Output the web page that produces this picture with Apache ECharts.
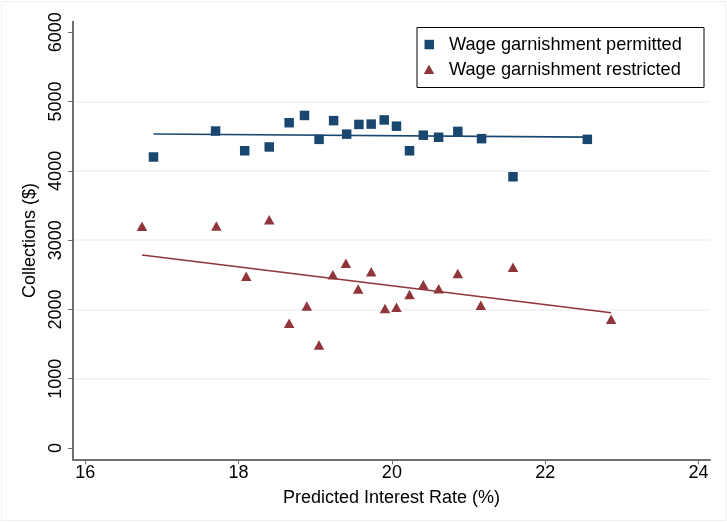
<!DOCTYPE html>
<html>
<head>
<meta charset="utf-8">
<script src="https://cdn.jsdelivr.net/npm/echarts@6/dist/echarts.min.js"></script>
<style>html,body{margin:0;padding:0;background:#fff}#c{width:727px;height:522px}</style>
</head>
<body>
<div id="c"></div>
<script>
var permittedX = [16.89, 17.70, 18.08, 18.40, 18.66, 18.86, 19.05, 19.24, 19.41, 19.57, 19.73, 19.90, 20.06, 20.23, 20.41, 20.61, 20.86, 21.17, 21.58, 22.55];
var permittedY = [4200, 4575, 4290, 4345, 4695, 4800, 4455, 4725, 4530, 4670, 4675, 4735, 4645, 4290, 4515, 4485, 4570, 4465, 3915, 4455];
var restrictedX = [16.74, 17.71, 18.10, 18.40, 18.66, 18.89, 19.05, 19.23, 19.40, 19.56, 19.73, 19.91, 20.06, 20.23, 20.41, 20.61, 20.86, 21.16, 21.58, 22.86];
var restrictedY = [3200, 3205, 2480, 3295, 1800, 2050, 1485, 2500, 2665, 2295, 2545, 2015, 2030, 2215, 2355, 2300, 2520, 2060, 2610, 1860];
var permittedFitX = [16.89, 22.55];
var permittedFitY = [4532, 4487];
var restrictedFitX = [16.74, 22.86];
var restrictedFitY = [2786, 1953];
var xTicks = [16, 18, 20, 22, 24];
var yTicks = [0, 1000, 2000, 3000, 4000, 5000, 6000];
var gridValues = [1000, 2000, 3000, 4000, 5000];
var legendLabels = ['Wage garnishment permitted', 'Wage garnishment restricted'];

var BLUE = '#1a476f', RED = '#90353b';
function zip(a, b) { return a.map(function (v, i) { return [v, b[i]]; }); }

var chart = echarts.init(document.getElementById('c'), null, {renderer: 'canvas'});
chart.setOption({
  animation: false,
  backgroundColor: '#fff',
  textStyle: {fontFamily: 'Liberation Sans, Arial, sans-serif'},
  grid: {left: 73, right: 17, top: 21.7, bottom: 62.7, containLabel: false},
  xAxis: {
    type: 'value', min: 15.84, max: 24.15,
    name: 'Predicted Interest Rate (%)', nameLocation: 'middle', nameGap: 30,
    nameTextStyle: {fontSize: 18, color: '#000', fontFamily: 'Liberation Sans'},
    axisLine: {onZero: false, lineStyle: {color: '#6e6e6e', width: 2}},
    axisTick: {show: true, length: 5, lineStyle: {color: '#6e6e6e', width: 1}, customValues: xTicks},
    axisLabel: {fontSize: 18, color: '#000', margin: 5, customValues: xTicks, formatter: function (v) { return String(v); }, fontFamily: 'Liberation Sans'},
    splitLine: {show: false}
  },
  yAxis: {
    type: 'value', min: -163, max: 6153,
    name: 'Collections ($)', nameLocation: 'middle', nameGap: 34,
    nameTextStyle: {fontSize: 18, color: '#000', fontFamily: 'Liberation Sans'},
    axisLine: {onZero: false, lineStyle: {color: '#6e6e6e', width: 2}},
    axisTick: {show: true, length: 5, lineStyle: {color: '#6e6e6e', width: 1}, customValues: yTicks},
    axisLabel: {fontSize: 18, color: '#000', margin: 8, rotate: 90, customValues: yTicks, formatter: function (v) { return String(v); }, fontFamily: 'Liberation Sans'},
    splitLine: {show: false}
  },
  legend: {show: false},
  graphic: [
    {type: 'rect', shape: {x: 1.5, y: 1.5, width: 724, height: 519}, style: {fill: 'none', stroke: '#eaf2f3', lineWidth: 1}, silent: true, z: -1},
    {type: 'rect', shape: {x: 417, y: 27.5, width: 287, height: 60}, style: {fill: '#fff', stroke: '#000', lineWidth: 1}, z: 100},
    {type: 'rect', shape: {x: 424.5, y: 39.8, width: 9.5, height: 9.5}, style: {fill: BLUE}, z: 101},
    {type: 'polygon', shape: {points: [[429, 64.5], [434.2, 74], [423.8, 74]]}, style: {fill: RED}, z: 101},
    {type: 'text', x: 449, y: 44.5, style: {text: legendLabels[0], fontSize: 18.2, fill: '#000', verticalAlign: 'middle', fontFamily: 'Liberation Sans'}, z: 101},
    {type: 'text', x: 449, y: 69.5, style: {text: legendLabels[1], fontSize: 18.2, fill: '#000', verticalAlign: 'middle', fontFamily: 'Liberation Sans'}, z: 101}
  ],
  series: [
    {
      type: 'line', data: [[15.84, 1000], [24.15, 1000]], silent: true, symbol: 'none',
      lineStyle: {opacity: 0}, z: 0,
      markLine: {
        z: 0, silent: true, symbol: 'none', label: {show: false},
        lineStyle: {color: '#eaf2f3', width: 1.5, type: 'solid'},
        data: gridValues.map(function (v) { return {yAxis: v}; })
      }
    },
    {
      name: legendLabels[0], type: 'scatter', data: zip(permittedX, permittedY),
      symbol: 'rect', symbolSize: 9.5,
      itemStyle: {color: BLUE, opacity: 1}, z: 6
    },
    {
      name: legendLabels[1], type: 'scatter', data: zip(restrictedX, restrictedY),
      symbol: 'triangle', symbolSize: [10.5, 9.5],
      itemStyle: {color: RED, opacity: 1}, z: 6
    },
    {
      type: 'line', data: zip(permittedFitX, permittedFitY), symbol: 'none',
      lineStyle: {color: BLUE, width: 1.6}, z: 5
    },
    {
      type: 'line', data: zip(restrictedFitX, restrictedFitY), symbol: 'none',
      lineStyle: {color: RED, width: 1.6}, z: 5
    }
  ]
});
</script>
</body>
</html>
